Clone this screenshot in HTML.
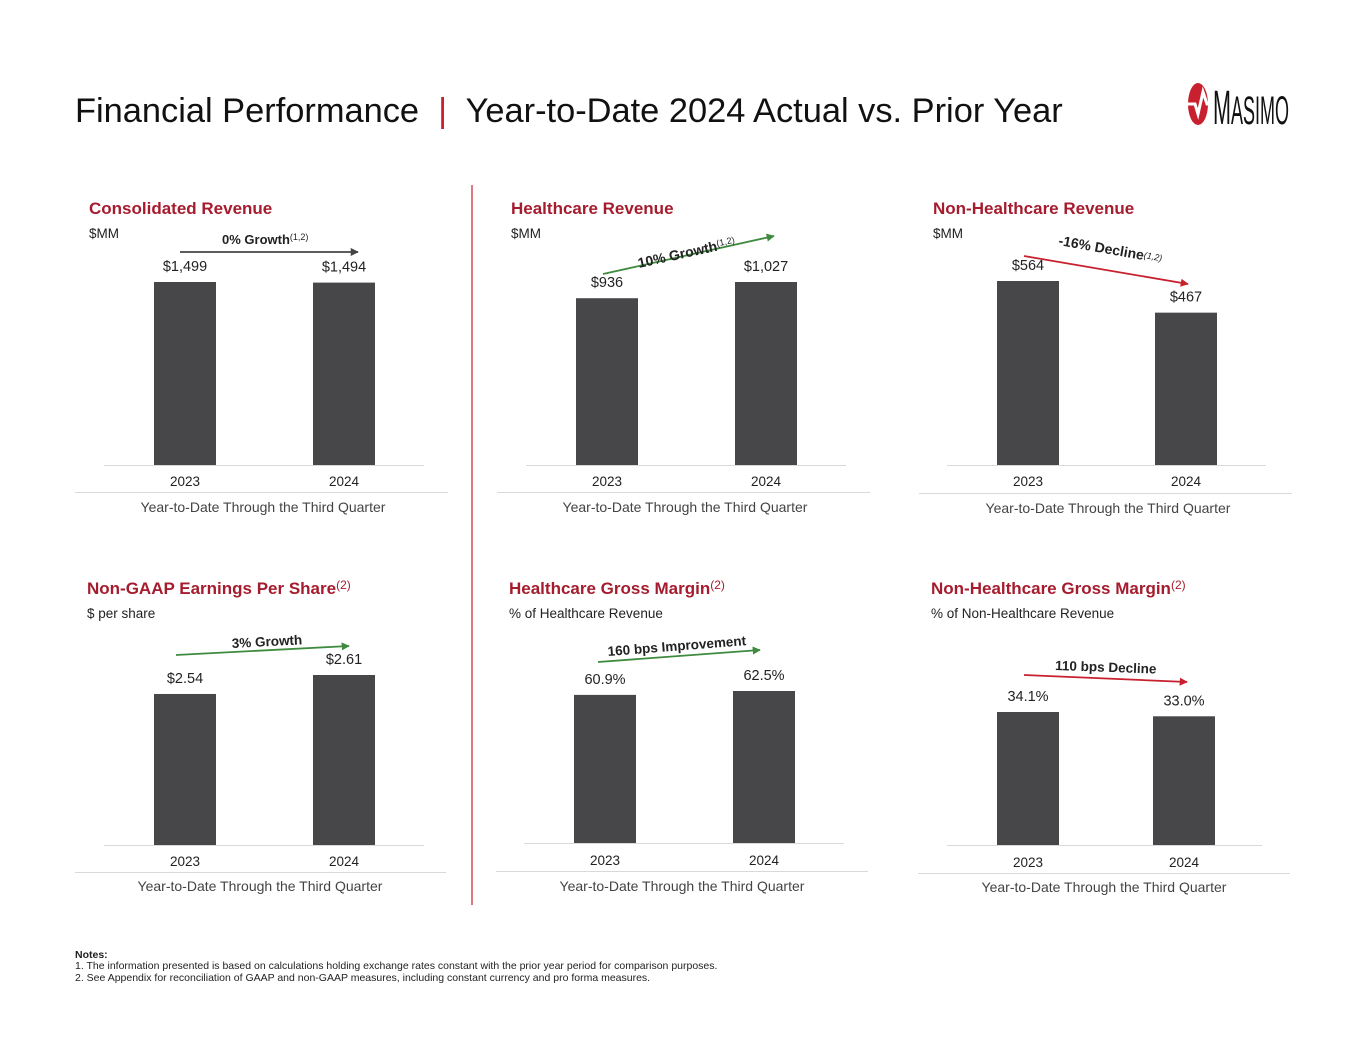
<!DOCTYPE html>
<html><head><meta charset="utf-8">
<style>
html,body{margin:0;padding:0;background:#fff;}
body{width:1365px;height:1055px;overflow:hidden;font-family:"Liberation Sans",Arial,sans-serif;}
svg text{font-family:"Liberation Sans",Arial,sans-serif;}
</style></head>
<body>
<svg id="chart" width="1365" height="1055" viewBox="0 0 1365 1055" xmlns="http://www.w3.org/2000/svg">
<defs>
<marker id="ag" viewBox="0 0 10 10" refX="9" refY="5" markerWidth="4.5" markerHeight="4.5" orient="auto"><path d="M0,0 L10,5 L0,10 z" fill="#3e8a3e"/></marker>
<marker id="ar" viewBox="0 0 10 10" refX="9" refY="5" markerWidth="4.5" markerHeight="4.5" orient="auto"><path d="M0,0 L10,5 L0,10 z" fill="#c8202f"/></marker>
<marker id="ak" viewBox="0 0 10 10" refX="9" refY="5" markerWidth="4.5" markerHeight="4.5" orient="auto"><path d="M0,0 L10,5 L0,10 z" fill="#444"/></marker>
</defs>
<text x="75" y="122" font-size="34.4" fill="#111" xml:space="preserve">Financial Performance  <tspan fill="#c8202f">|</tspan>  Year-to-Date 2024 Actual vs. Prior Year</text>
<g>
<ellipse cx="1198" cy="104" rx="10" ry="21" fill="#c8202f"/>
<path d="M1188,104 L1195,104 L1198,114 L1203,92 L1207,104 L1209,104" stroke="#fff" stroke-width="3" fill="none"/>
<g transform="translate(1213,124) scale(0.45,1)">
<text x="0" y="0" font-size="48" fill="#111">M<tspan font-size="40">ASIMO</tspan></text>
</g>
</g>
<line x1="472" y1="185" x2="472" y2="905" stroke="#c8202f" stroke-width="1.2"/>
<g id="panels"></g>
<g>
<line x1="180" y1="252" x2="358" y2="252" stroke="#444" stroke-width="1.8" marker-end="url(#ak)"/>
<text x="222" y="244" font-size="13" font-weight="bold" fill="#222">0% Growth<tspan font-size="9" font-weight="normal" dy="-4">(1,2)</tspan></text>
<line x1="603" y1="274" x2="774" y2="236" stroke="#3e8a3e" stroke-width="1.8" marker-end="url(#ag)"/>
<text x="639" y="268" font-size="14" font-weight="bold" fill="#222" transform="rotate(-12.5 639 268)">10% Growth<tspan font-size="9" font-weight="normal" dy="-4">(1,2)</tspan></text>
<line x1="1024" y1="256" x2="1188" y2="284" stroke="#c8202f" stroke-width="1.8" marker-end="url(#ar)"/>
<text x="1058" y="245" font-size="14" font-weight="bold" fill="#222" transform="rotate(10 1058 245)">-16% Decline<tspan font-size="9" font-weight="normal" font-style="italic" dy="-2">(1,2)</tspan></text>
<line x1="176" y1="655" x2="349" y2="646" stroke="#3e8a3e" stroke-width="1.8" marker-end="url(#ag)"/>
<text x="232" y="648" font-size="13.5" font-weight="bold" fill="#222" transform="rotate(-3 232 648)">3% Growth</text>
<line x1="598" y1="662" x2="760" y2="650" stroke="#3e8a3e" stroke-width="1.8" marker-end="url(#ag)"/>
<text x="608" y="656" font-size="13.5" font-weight="bold" fill="#222" transform="rotate(-4.5 608 656)">160 bps Improvement</text>
<line x1="1024" y1="675" x2="1187" y2="682" stroke="#c8202f" stroke-width="1.8" marker-end="url(#ar)"/>
<text x="1055" y="670" font-size="13.5" font-weight="bold" fill="#222" transform="rotate(2 1055 670)">110 bps Decline</text>
</g>
<g font-size="10.5" fill="#222">
<text x="75" y="958" font-weight="bold">Notes:</text>
<text x="75" y="969">1.  The information presented is based on calculations holding exchange rates constant with the prior year period for comparison purposes.</text>
<text x="75" y="981">2.  See Appendix for reconciliation of GAAP and non-GAAP measures, including constant currency and pro forma measures.</text>
</g>
</svg>
<script>
const years = ["2023", "2024"];
const consolidatedRevenue = [1499, 1494];
const healthcareRevenue = [936, 1027];
const nonHealthcareRevenue = [564, 467];
const nonGaapEps = [2.54, 2.61];
const healthcareGrossMargin = [60.9, 62.5];
const nonHealthcareGrossMargin = [34.1, 33.0];
const consolidatedLabels = ["$1,499", "$1,494"];
const healthcareLabels = ["$936", "$1,027"];
const nonHealthcareLabels = ["$564", "$467"];
const epsLabels = ["$2.54", "$2.61"];
const hcMarginLabels = ["60.9%", "62.5%"];
const nhcMarginLabels = ["34.1%", "33.0%"];

const NS = "http://www.w3.org/2000/svg";
const root = document.getElementById("panels");
function mk(tag, attrs, parent, txt) {
  const e = document.createElementNS(NS, tag);
  for (const k in attrs) e.setAttribute(k, attrs[k]);
  if (txt !== undefined) e.textContent = txt;
  parent.appendChild(e);
  return e;
}
const panels = [
  {name:"consolidated-revenue", title:"Consolidated Revenue", sup:"", unit:"$MM", vals:consolidatedRevenue, labels:consolidatedLabels, tx:89, ty:214, bx:[154,313], base:465, domainMin:0, domainMax:1499, maxH:183, ax0:104, ax1:424, yl:481, sep:[75,448,492], sub:[263,512]},
  {name:"healthcare-revenue", title:"Healthcare Revenue", sup:"", unit:"$MM", vals:healthcareRevenue, labels:healthcareLabels, tx:511, ty:214, bx:[576,735], base:465, domainMin:0, domainMax:1027, maxH:183, ax0:526, ax1:846, yl:481, sep:[497,870,492], sub:[685,512]},
  {name:"non-healthcare-revenue", title:"Non-Healthcare Revenue", sup:"", unit:"$MM", vals:nonHealthcareRevenue, labels:nonHealthcareLabels, tx:933, ty:214, bx:[997,1155], base:465, domainMin:0, domainMax:564, maxH:184, ax0:947, ax1:1266, yl:481, sep:[919,1292,493], sub:[1108,513]},
  {name:"non-gaap-eps", title:"Non-GAAP Earnings Per Share", sup:"(2)", unit:"$ per share", vals:nonGaapEps, labels:epsLabels, tx:87, ty:594, bx:[154,313], base:845, domainMin:1.983, domainMax:2.61, maxH:170, ax0:104, ax1:424, yl:861, sep:[75,446,872], sub:[260,891]},
  {name:"healthcare-gross-margin", title:"Healthcare Gross Margin", sup:"(2)", unit:"% of Healthcare Revenue", vals:healthcareGrossMargin, labels:hcMarginLabels, tx:509, ty:594, bx:[574,733], base:843, domainMin:0, domainMax:62.5, maxH:152, ax0:524, ax1:844, yl:860, sep:[496,868,871], sub:[682,891]},
  {name:"non-healthcare-gross-margin", title:"Non-Healthcare Gross Margin", sup:"(2)", unit:"% of Non-Healthcare Revenue", vals:nonHealthcareGrossMargin, labels:nhcMarginLabels, tx:931, ty:594, bx:[997,1153], base:845, domainMin:0, domainMax:34.1, maxH:133, ax0:947, ax1:1262, yl:862, sep:[918,1290,873], sub:[1104,892]}
];
panels.forEach(p => {
  const g = mk("g", {}, root);
  
  
  const t = mk("text", {x:p.tx, y:p.ty, "font-size":17, "font-weight":"bold", fill:"#a51c2e"}, g, p.title);
  
  
  if (p.sup) mk("tspan", {"font-size":12, "font-weight":"normal", dy:-5}, t, p.sup);
  const u = mk("text", {x:p.tx, y:p.ty+24, "font-size":13.5, fill:"#222"}, g, p.unit);
  
  
  const y = v => p.base - p.maxH * (v - p.domainMin) / (p.domainMax - p.domainMin);
  p.vals.forEach((v, i) => {
    const top = y(v);
    const r = mk("rect", {x:p.bx[i], y:top, width:62, height:p.base - top, fill:"#474749"}, g);
    
    
    const lt = mk("text", {x:p.bx[i]+31, y:top-11, "font-size":14.5, fill:"#222", "text-anchor":"middle"}, g, p.labels[i]);
    
    
    const yt = mk("text", {x:p.bx[i]+31, y:p.yl+5, "font-size":13.5, fill:"#222", "text-anchor":"middle"}, g, years[i]);
    
    
  });
  const ax = mk("line", {x1:p.ax0, x2:p.ax1, y1:p.base+0.5, y2:p.base+0.5, stroke:"#d9d9d9", "stroke-width":1}, g);
  
  
  const sp = mk("line", {x1:p.sep[0], x2:p.sep[1], y1:p.sep[2]+0.5, y2:p.sep[2]+0.5, stroke:"#d9d9d9", "stroke-width":1}, g);
  
  
  const st = mk("text", {x:p.sub[0], y:p.sub[1], "font-size":14, fill:"#444", "text-anchor":"middle"}, g, "Year-to-Date Through the Third Quarter");
  
  
});
</script>
</body></html>
